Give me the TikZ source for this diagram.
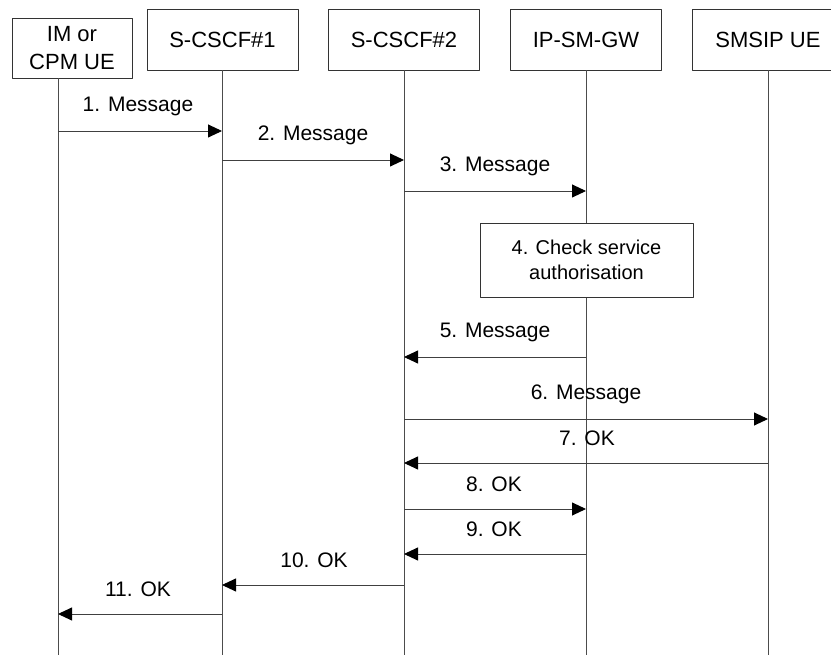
\documentclass[tikz,border=0pt]{standalone}
\usepackage{fontspec}
\setmainfont{Liberation Sans}
\usetikzlibrary{arrows.meta}
\begin{document}
\begin{tikzpicture}[x=1pt, y=-1pt, font=\fontsize{21}{25}\selectfont, line join=round, >={Triangle[length=14pt,width=13pt,color=black]},
    entity/.style={draw=black!80, fill=white, align=center, minimum width=151, minimum height=61, inner sep=1pt, font=\fontsize{22}{28}\selectfont},
    life/.style={draw=black!70, line width=0.9pt},
    msg/.style={->, draw=black!75, line width=0.9pt}]
            \useasboundingbox (0,0) rectangle (831,655);
            \node[entity, minimum width=120, minimum height=60] (ue) at (72,48) {IM or\\CPM UE};
            \node[entity] (cscfa) at (222.5,39.5) {S-CSCF\#1};
            \node[entity] (cscfb) at (404,39.5) {S-CSCF\#2};
            \node[entity] (gw) at (586,39.5) {IP-SM-GW};
            \node[entity] (smsip) at (768,39.5) {SMSIP UE};
            \path
            (58,655) coordinate (ue-end)
            (222,655) coordinate (cscfa-end)
            (404,655) coordinate (cscfb-end)
            (586,655) coordinate (gw-end)
            (768,655) coordinate (smsip-end) ;
            \foreach \n in {ue,cscfa,cscfb,gw,smsip}
            \draw[life] (\n.south -| \n-end)--(\n-end);
            \node[entity, minimum width=213, minimum height=74, font=\fontsize{20}{25}\selectfont] (check) at (586.5,260) {4. Check service\\authorisation};
            \foreach \k/\a/\b/\y/\lx/\t in {1/ue/cscfa/131/138/{1. Message}, 2/cscfa/cscfb/160/313/{2. Message}, 3/cscfb/gw/191/495/{3. Message}, 5/gw/cscfb/357/495/{5. Message}, 6/cscfb/smsip/419/586/{6. Message}, 7/smsip/cscfb/463/587/{7. OK}, 8/cscfb/gw/509/494/{8. OK}, 9/gw/cscfb/554/494/{9. OK}, 10/cscfb/cscfa/585/314/{10. OK}, 11/cscfa/ue/614/138/{11. OK}}{
            \path (0,\y) coordinate (m\k);
            \draw[msg] (\a-end |- m\k)--(\b-end |- m\k);
            \node (t\k) at (\lx,{\y-25}) {\t};
            }
    \end{tikzpicture}
\end{document}
